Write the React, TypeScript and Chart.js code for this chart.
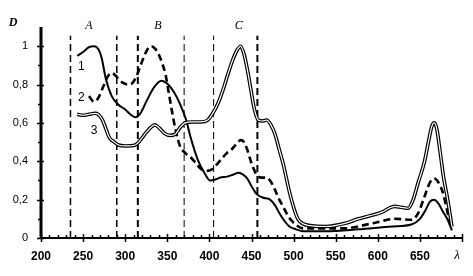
import React, { useEffect, useRef } from "react";
import { Chart, registerables } from "chart.js";

Chart.register(...registerables);

// Curve 1 (solid)
const curve1X = [243, 250, 257, 263, 268, 272, 277, 284, 292, 300, 306, 312, 318, 326, 335, 343, 351, 358, 365, 372, 378, 386, 394, 401, 407, 413, 421, 428, 435, 440, 445, 450, 456, 464, 472, 478, 483, 489, 495, 503, 511, 538, 577, 617, 640, 650, 656, 662, 667, 672, 677, 683, 688];
const curve1Y = [0.95, 0.97, 0.995, 1.0, 0.985, 0.94, 0.83, 0.74, 0.695, 0.67, 0.645, 0.63, 0.65, 0.72, 0.79, 0.82, 0.8, 0.76, 0.7, 0.62, 0.52, 0.41, 0.34, 0.3, 0.305, 0.315, 0.32, 0.33, 0.34, 0.33, 0.31, 0.27, 0.23, 0.21, 0.2, 0.17, 0.13, 0.09, 0.06, 0.045, 0.035, 0.035, 0.045, 0.06, 0.07, 0.1, 0.14, 0.19, 0.2, 0.18, 0.14, 0.095, 0.04];

// Curve 2 (dashed)
const curve2X = [257, 263, 268, 274, 279, 284, 290, 297, 304, 309, 314, 320, 326, 331, 336, 340, 344, 348, 352, 356, 360, 365, 372, 378, 385, 390, 396, 402, 408, 414, 420, 426, 432, 437, 441, 445, 450, 456, 462, 467, 472, 477, 483, 488, 494, 500, 511, 558, 597, 620, 640, 648, 655, 662, 667, 672, 677, 682, 687];
const curve2Y = [0.74, 0.71, 0.73, 0.79, 0.84, 0.86, 0.84, 0.81, 0.8, 0.81, 0.85, 0.92, 0.98, 1.0, 0.985, 0.955, 0.91, 0.85, 0.75, 0.65, 0.56, 0.48, 0.44, 0.42, 0.385, 0.36, 0.35, 0.355, 0.38, 0.41, 0.44, 0.46, 0.49, 0.51, 0.5, 0.46, 0.39, 0.33, 0.315, 0.315, 0.3, 0.26, 0.2, 0.16, 0.11, 0.08, 0.05, 0.05, 0.08, 0.1, 0.095, 0.13, 0.21, 0.29, 0.31, 0.29, 0.24, 0.15, 0.05];

// Curve 3 (double line)
const curve3X = [243, 250, 257, 264, 268, 273, 277, 281, 287, 292, 300, 312, 318, 324, 330, 335, 340, 347, 353, 359, 365, 371, 380, 390, 398, 404, 410, 416, 421, 427, 433, 437, 441, 445, 449, 453, 458, 463, 468, 473, 478, 483, 488, 494, 500, 505, 511, 525, 538, 560, 577, 590, 605, 613, 620, 628, 636, 642, 648, 655, 661, 664, 667, 670, 674, 678, 683, 688];
const curve3Y = [0.645, 0.64, 0.645, 0.65, 0.645, 0.615, 0.57, 0.525, 0.5, 0.485, 0.48, 0.485, 0.51, 0.545, 0.575, 0.59, 0.575, 0.545, 0.535, 0.54, 0.575, 0.6, 0.605, 0.605, 0.615, 0.65, 0.7, 0.77, 0.84, 0.92, 0.98, 1.0, 0.96, 0.88, 0.78, 0.68, 0.615, 0.61, 0.615, 0.59, 0.54, 0.46, 0.38, 0.26, 0.16, 0.1, 0.075, 0.062, 0.06, 0.075, 0.1, 0.115, 0.135, 0.155, 0.165, 0.16, 0.155, 0.2, 0.29, 0.39, 0.52, 0.58, 0.6, 0.57, 0.45, 0.32, 0.2, 0.06];

// Vertical dashed region boundaries
const boundaryX = [235, 290, 315, 370, 405, 457];
const boundaryWidth = [1.5, 1.5, 2, 1, 1, 2];
const boundaryTop = 1.055;

// Axis
const xMin = 200;
const xMax = 700;
const xStep = 50;
const yMin = 0;
const yMax = 1.1;
const yStep = 0.2;

// Text annotations (data coordinates)
const regionLabels = ["A", "B", "C"];
const regionLabelX = [257, 339, 435];
const regionLabelY = 1.108;
const curveLabels = ["1", "2", "3"];
const curveLabelX = [248, 248, 263];
const curveLabelY = [0.895, 0.729, 0.557];
const axisTitleY = "D";
const axisTitleX = "λ";

function toPoints(xs: number[], ys: number[]) {
  return xs.map((x, i) => ({ x, y: ys[i] }));
}

const decor = {
  id: "decor",
  afterDatasetsDraw(chart: any) {
    const ctx = chart.ctx as CanvasRenderingContext2D;
    const xs = chart.scales.x;
    const ys = chart.scales.y;
    const { left, right, top, bottom } = chart.chartArea;
    ctx.save();
    ctx.strokeStyle = "#000";
    ctx.fillStyle = "#000";
    // x axis
    ctx.lineWidth = 2;
    ctx.beginPath();
    ctx.moveTo(left, bottom);
    ctx.lineTo(right, bottom);
    ctx.stroke();
    ctx.lineWidth = 1.5;
    for (let v = xMin; v <= xMax; v += 10) {
      const px = Math.round(xs.getPixelForValue(v)) + 0.5;
      ctx.beginPath();
      if (v % xStep === 0) {
        ctx.moveTo(px, bottom - 4);
        ctx.lineTo(px, bottom + 4);
      } else {
        ctx.moveTo(px, bottom - 3);
        ctx.lineTo(px, bottom);
      }
      ctx.stroke();
    }
    // y axis
    ctx.lineWidth = 3;
    ctx.beginPath();
    ctx.moveTo(left, bottom + 1);
    ctx.lineTo(left, top);
    ctx.stroke();
    ctx.lineWidth = 1.5;
    for (let k = 0; k <= 10; k++) {
      const v = k * 0.1;
      const py = Math.round(ys.getPixelForValue(v)) + 0.5;
      ctx.beginPath();
      if (k % 2 === 0) {
        ctx.moveTo(left - 4, py);
        ctx.lineTo(left + 3, py);
      } else {
        ctx.moveTo(left - 3, py);
        ctx.lineTo(left, py);
      }
      ctx.stroke();
    }
    // Region labels
    ctx.textAlign = "center";
    ctx.textBaseline = "middle";
    ctx.font = "italic 12px 'Liberation Serif'";
    regionLabels.forEach((t, i) => {
      ctx.fillText(t, xs.getPixelForValue(regionLabelX[i]), ys.getPixelForValue(regionLabelY));
    });
    // Curve labels
    ctx.font = "12px 'Liberation Sans'";
    curveLabels.forEach((t, i) => {
      ctx.fillText(t, xs.getPixelForValue(curveLabelX[i]), ys.getPixelForValue(curveLabelY[i]));
    });
    // Axis titles
    ctx.font = "italic bold 12px 'Liberation Serif'";
    ctx.fillText(axisTitleY, 13, ys.getPixelForValue(1.1) - 4);
    ctx.font = "italic 13px 'Liberation Serif'";
    ctx.fillText(axisTitleX, xs.getPixelForValue(694), bottom + 18);
    ctx.restore();
  },
};

function fmtY(v: number) {
  const r = Math.round(v * 10) / 10;
  if (Math.abs(r - yMax) < 1e-6) return "";
  if (r === 0) return "0";
  if (r === 1) return "1";
  return r.toFixed(1).replace(".", ",");
}

export default function App() {
  const ref = useRef<HTMLCanvasElement | null>(null);
  useEffect(() => {
    document.body.style.margin = "0";
    if (!ref.current) return;
    const datasets: any[] = [
      {
        data: toPoints(curve3X, curve3Y),
        borderColor: "#fff",
        borderWidth: 1.2,
        cubicInterpolationMode: "monotone",
        pointRadius: 0,
      },
      {
        data: toPoints(curve3X, curve3Y),
        borderColor: "#000",
        borderWidth: 3.6,
        cubicInterpolationMode: "monotone",
        pointRadius: 0,
      },
      {
        data: toPoints(curve1X, curve1Y),
        borderColor: "#000",
        borderWidth: 2,
        cubicInterpolationMode: "monotone",
        pointRadius: 0,
      },
      {
        data: toPoints(curve2X, curve2Y),
        borderColor: "#000",
        borderWidth: 2.6,
        borderDash: [7, 4],
        cubicInterpolationMode: "monotone",
        pointRadius: 0,
      },
      ...boundaryX.map((bx, i) => ({
        data: [
          { x: bx, y: 0 },
          { x: bx, y: boundaryTop },
        ],
        borderColor: "#000",
        borderWidth: boundaryWidth[i],
        borderDash: [7, 4],
        pointRadius: 0,
      })),
    ];
    const chart = new Chart(ref.current, {
      type: "line",
      data: { datasets },
      options: {
        animation: false,
        responsive: false,
        devicePixelRatio: 1,
        layout: { padding: { top: 27, right: 2, left: 0, bottom: 0 } },
        plugins: { legend: { display: false }, tooltip: { enabled: false } },
        scales: {
          x: {
            type: "linear",
            min: xMin,
            max: xMax,
            border: { display: false },
            grid: { display: false, drawTicks: false },
            ticks: {
              stepSize: xStep,
              includeBounds: false,
              autoSkip: false,
              maxRotation: 0,
              padding: 11,
              color: "#000",
              font: { family: "'Liberation Sans'", size: 12, weight: "bold" },
              callback: (v: any) => (v >= xMax ? "" : String(v)),
            },
            afterFit: (s: any) => {
              s.height = 38;
            },
          },
          y: {
            type: "linear",
            min: yMin,
            max: yMax,
            border: { display: false },
            grid: { display: false, drawTicks: false },
            ticks: {
              stepSize: yStep,
              includeBounds: false,
              autoSkip: false,
              padding: 13,
              color: "#000",
              font: { family: "'Liberation Sans'", size: 11 },
              callback: (v: any) => fmtY(Number(v)),
            },
            afterFit: (s: any) => {
              s.width = 41;
            },
          },
        },
      },
      plugins: [decor],
    });
    return () => chart.destroy();
  }, []);
  return (
    <div style={{ width: 473, height: 276, background: "#fff" }}>
      <canvas ref={ref} width={473} height={276} style={{ display: "block" }} />
    </div>
  );
}
